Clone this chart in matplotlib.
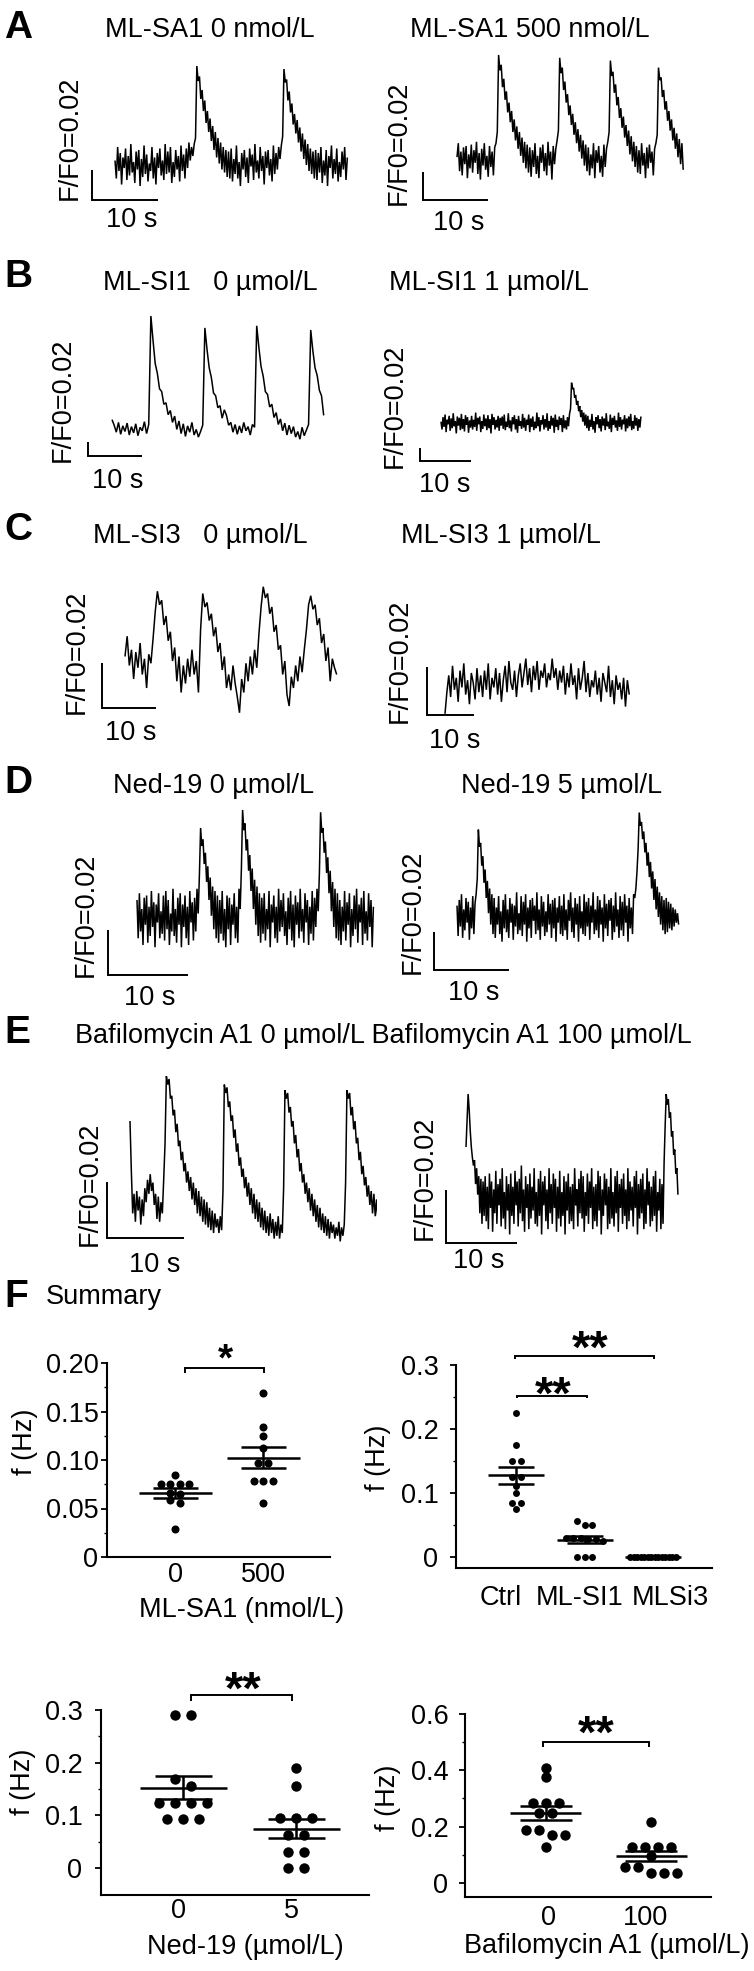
import numpy as np
import matplotlib
matplotlib.use('Agg')
import matplotlib.pyplot as plt

W, H = 754, 1971
FONT_SIZE = 19.5
LETTER_SIZE = 28

# calcium traces, dF/F0 in percent (the scale bar is 2 % = 0.02)
TRACE_SA1_0 = [  # every 0.2 s
    0.3, -0.9, 1.2, -0.4, 0.8, -1.3, 0.5, -0.2, 1.1, -1.0,
    0.6, -0.7, 1.4, -0.5, 0.2, -1.2, 0.9, -0.3, 1.0, -1.4,
    0.4, -0.8, 1.3, -0.6, 0.7, -1.1, 0.1, -0.4, 1.2, -0.9,
    0.5, -1.3, 0.8, -0.2, 1.1, -0.7, 0.3, -1.0, 1.4, -0.6,
    0.9, -0.5, 1.2, -1.2, 0.2, -0.8, 1.0, -0.3, 0.6, -1.1,
    1.3, -0.4, 0.7, -0.9, 1.1, -0.2, 1.5, 0.3, 1.2, 0.6, 1.4,
    1.8, 6.6, 5.6, 5.9, 4.4, 5.0, 3.6, 4.3, 2.8, 3.6, 2.2, 3.1, 1.6, 2.6,
    1.0, 2.2, 0.5, 1.8, 0.1, 1.5, -0.3, 1.2, -0.5, 1.0, -0.8, 0.9, -0.9, 1.1,
    -1.1, 0.4, -0.6, 1.3, -0.9, 0.2, -1.4, 0.8, -0.3, 1.0,
    -0.8, 0.5, -1.2, 1.1, -0.1, 0.7, -1.0, 1.4, -0.5, 0.3,
    -0.9, 1.2, -0.4, 0.6, -1.3, 0.9, -0.2, 1.0, -0.7, 0.4,
    -1.1, 1.3, -0.6, 0.8, -0.3, 1.2, 0.4, 1.3,
    1.9, 6.4, 5.5, 5.7, 4.3, 4.9, 3.5, 4.1, 2.7, 3.4, 2.1, 3.0, 1.5, 2.5,
    0.9, 2.1, 0.4, 1.7, 0.0, 1.4, -0.4, 1.1, -0.6, 0.9, -0.9, 1.0, -1.0,
    0.8, -0.5, 1.2, -1.2, 0.3, -0.7, 1.0, -1.4, 0.6, -0.2,
    1.3, -0.9, 0.4, -0.6, 1.1, -1.1, 0.2, -0.8, 0.9, -0.3, 1.2, -1.0, 0.5]
TRACE_SA1_500 = [  # every 0.2 s
    0.2, 1.2, -0.8, 0.6, -1.1, 0.9, -0.3, 1.0, -1.3, 0.4,
    -0.6, 1.1, -0.9, 0.7, -0.2, 1.3, -1.0, 0.5, -1.4, 0.8,
    -0.4, 1.2, -0.7, 0.3, -1.2, 1.0, -0.5, 0.6, -1.1, 0.9, 1.2,
    2.0, 7.5, 6.4, 6.8, 5.2, 5.8, 4.3, 4.9, 3.4, 4.1, 2.7, 3.5, 2.0, 2.9,
    1.4, 2.4, 0.8, 2.0, 0.3, 1.6, -0.2, 1.3, -0.6, 1.1, -0.9, 0.9, -1.2,
    0.7, -0.5, 1.2, -1.0, 0.3, -1.3, 0.9, -0.2, 1.1, -0.8,
    0.5, -1.1, 1.3, -0.4, 0.6, -1.4, 1.0, -0.3, 0.8, 1.4,
    2.1, 7.3, 6.2, 6.6, 5.0, 5.6, 4.1, 4.7, 3.2, 3.9, 2.5, 3.3,
    1.8, 2.7, 1.2, 2.2, 0.6, 1.8, 0.1, 1.4, -0.4, 1.1, -0.8,
    0.9, -1.1, 0.4, -0.6, 1.2, -1.3, 0.7, -0.2, 1.0, -0.9, 0.3, -1.2, 1.1, -0.5, 0.8, 1.3,
    2.0, 7.1, 6.0, 6.3, 4.8, 5.4, 3.9, 4.5, 3.0, 3.7, 2.3, 3.1,
    1.6, 2.5, 1.0, 2.1, 0.4, 1.7, -0.1, 1.3, -0.5, 1.0, -0.9,
    0.7, -1.0, 1.2, -0.4, 0.5, -1.3, 0.9, -0.6, 1.1, -0.2, 0.6, -1.1, 0.8, 1.2,
    1.8, 6.6, 5.7, 5.9, 4.5, 5.0, 3.6, 4.2, 2.8, 3.5, 2.1,
    2.9, 1.4, 2.3, 0.8, 1.9, 0.2, 1.5, -0.3, 1.2, -0.7]
TRACE_SI1_0 = [  # every 0.4 s
    1.2, 0.4, -0.6, 0.8, -0.9, 0.3, -0.5, 0.7, -1.0, 0.2, -0.7, 0.6, -1.1, 0.1, -0.4, 0.9, -0.8, 0.5,
    16.0, 12.5, 9.2, 7.8, 5.6, 5.2, 3.4, 3.6, 1.9, 2.5, 0.8, 1.7, -0.2, 1.0, -0.8,
    0.6, -1.2, 0.3, -0.6, 0.8, -1.0, -0.2, -1.3, -0.5, 0.4,
    14.3, 11.2, 8.6, 7.2, 5.0, 4.6, 2.9, 3.2, 1.4, 2.6, 1.8, 0.4, 0.8, -0.6, 0.5,
    -0.9, 0.3, -0.7, 0.8, -0.4, 0.2, -1.0, 0.5, 0.1,
    14.6, 11.5, 8.8, 7.4, 5.2, 4.8, 3.0, 3.4, 1.5, 2.2, 0.5, 1.3, -0.4, 0.7, -1.0,
    0.4, -0.8, 0.2, -1.3, -0.5, -1.6, 0.1, -1.1, -0.3, 0.5,
    14.0, 11.0, 8.6, 7.5, 5.4, 4.6, 1.8]
TRACE_SI1_1 = [  # every 0.2 s
    0.2, -1.0, 0.9, -0.6, 1.3, -1.4, 0.5, -0.2, 1.1, -1.2,
    0.7, -0.8, 1.5, -0.5, 0.3, -1.6, 1.0, -0.4, 0.8, -1.1,
    1.4, -0.9, 0.6, -1.3, 1.2, -0.3, 0.9, -1.5, 0.4, -0.7,
    1.1, -1.0, 0.5, -0.6, 1.6, -1.2, 0.8, -0.2, 1.0, -1.4,
    0.3, -0.9, 1.3, -0.5, 0.7, -1.1, 1.2, -0.8, 0.6, -1.6,
    1.4, -0.3, 0.9, -1.0, 0.5, -0.7, 1.1, -1.2, 0.8, -0.4,
    1.0, -0.9, 1.3, -1.1, 0.2, -0.6, 1.5, -0.8, 0.4, -1.3,
    0.9, -0.2, 1.2, -1.0, 0.6, -1.5, 1.1, -0.4, 0.3, -0.9,
    1.4, -0.7, 0.8, -1.2, 0.5, -0.3, 1.3, -1.4, 0.7, -0.6,
    1.0, -1.1, 0.2, -0.8, 1.6, -0.5, 0.9, -1.3, 0.4, -0.2,
    1.2, -1.0, 0.6, -0.7, 1.5, -1.2, 0.3, -0.9, 1.1, -0.4,
    0.8, -1.5, 1.3, -0.6, 0.5, -1.1, 1.0, -0.3, 0.7, -1.4,
    1.2, -0.8, 0.4, -1.0, 0.9, -0.5, 1.4,
    2.2, 6.2, 5.2, 5.4, 3.9, 4.3, 2.8, 3.4, 1.8, 2.6, 0.9, 2.0, 0.2, 1.6, -0.4, 1.3, -0.8,
    1.1, -1.2, 0.5, -0.6, 1.4, -1.0, 0.3, -1.5, 0.9, -0.2,
    1.2, -0.8, 0.6, -1.3, 1.0, -0.4, 0.7, -1.1, 1.5, -0.5,
    0.2, -0.9, 1.3, -1.4, 0.8, -0.3, 1.1, -0.7, 0.4, -1.2,
    1.6, -0.6, 0.9, -1.0, 0.5, -0.2, 1.2, -1.3, 0.7, -0.8,
    1.0, -0.5, 1.4, -1.1, 0.3, -0.9, 1.2, -0.4, 0.8, -1.2, 0.6, -0.7, 1.0]
TRACE_SI3_0 = [  # every 0.4 s
    0.6, 1.5, 0.2, 0.9, -0.4, 0.8, 0.1, 1.2, -0.2, 0.5, -0.8, 0.7, 0.3,
    1.4, 2.6, 3.5, 2.9, 3.1, 2.0, 2.4, 1.3, 1.7, 0.4, 1.0, -0.5, 0.6, -1.0, 0.2, -0.6,
    0.5, -0.3, 0.9, -0.2, 0.4, -1.0, 1.8,
    3.4, 2.8, 3.0, 2.2, 2.5, 1.5, 1.9, 0.8, 1.2, 0.0, 0.6, -0.8, -0.2, -0.9, 0.2,
    -0.6, -1.2, -1.9, -0.4, -1.0, 0.3, -0.5, 0.6, -0.2, 0.9, 0.1, 1.6,
    2.8, 3.7, 3.2, 3.4, 2.5, 2.8, 1.7, 2.0, 0.9, 1.1, -0.2, 0.4, -1.1, -1.6, -0.3,
    -0.8, 0.2, -0.5, 0.6, -0.1, 0.9, 1.8,
    2.9, 3.3, 2.7, 2.9, 2.0, 2.3, 1.2, 1.6, 0.4, 1.0, -0.5, 0.5, 0.1, -0.2]
TRACE_SI3_1 = [  # every 0.4 s
    -1.2, -0.3, 0.4, -0.5, 0.8, -0.2, 0.3, -0.7, 0.6, -0.1, 0.9, -0.4, 0.2, -0.8, 0.5, 0.1, -0.6, 0.7, -0.3, 0.4,
    -0.5, 0.6, -0.2, 0.9, -0.6, 0.3, -0.1, 0.7, -0.4, 0.5, -0.7, 0.2, 0.8, -0.3, 1.0, 0.1, -0.2, 0.6, -0.5, 0.4,
    0.9, -0.1, 0.5, 1.1, 0.0, 0.7, -0.3, 0.8, 0.2, 1.0, -0.2, 0.6, 0.3, 0.9, -0.1, 0.5, 0.2, 1.1, 0.3, 0.7,
    -0.2, 0.6, 0.1, 0.8, -0.4, 0.5, -0.1, 0.9, 0.0, 0.4, -0.6, 0.7, -0.2, 0.3, 1.0, -0.3, 0.5, -0.5, 0.2, -0.1,
    0.6, -0.4, 0.3, -0.7, 0.5, 0.1, -0.3, 0.8, -0.5, 0.2, -0.8, 0.4, -0.2, 0.1, -0.6, 0.3, -0.9, 0.2, -0.4]
TRACE_NED_0 = [  # every 0.15 s
    0.8, -0.9, 1.1, -0.6, 0.4, -1.2, 0.9, -0.3, 1.0, -1.1,
    0.5, -0.8, 1.2, -0.4, 0.7, -1.3, 0.6, -0.2, 1.1, -0.9,
    0.3, -0.7, 1.0, -1.0, 1.2, -0.5, 0.8, -1.2, 0.2, -0.6,
    1.3, -0.8, 0.4, -1.1, 0.9, -0.3, 1.1, -1.3, 0.6, -0.4,
    1.0, -0.9, 0.5, -1.2, 1.2, -0.2, 0.7, -1.0, 0.9, -0.6, 1.3, 0.2,
    1.9, 4.0, 3.2, 3.5, 2.4, 2.9, 1.6, 2.3, 0.8, 1.8, 0.1, 1.4, -0.5, 1.2, -0.9, 1.0, -1.1,
    0.8, -0.7, 1.2, -1.0, 0.4, -1.3, 1.0, -0.5, 0.9, -1.2, 0.6, -0.3, 1.1, -0.9, 0.5, -1.1, 1.3, 0.4,
    2.2, 4.8, 3.9, 4.2, 3.0, 3.5, 2.1, 2.8, 1.2, 2.2, 0.4, 1.7, -0.3, 1.4, -0.8, 1.1, -1.1,
    0.9, -0.7, 1.1, -1.0, 0.4, -0.5, 1.2, -1.3, 0.6, -0.2,
    1.0, -0.9, 0.5, -1.1, 1.3, -0.6, 0.8, -0.4, 1.1, -0.8,
    0.3, -1.2, 0.9, -0.5, 1.2, -1.0, 0.6, -1.3, 1.0, -0.3,
    0.7, -0.9, 1.3, -0.6, 0.4, -1.1, 1.1, -0.2, 0.8, -1.2,
    0.5, -0.7, 1.2, -1.0, 0.9, -0.4, 1.3, 0.3,
    2.0, 4.7, 3.8, 4.0, 2.9, 3.4, 2.0, 2.7, 1.1, 2.1, 0.3, 1.6, -0.4, 1.3, -0.9, 1.1, -1.0,
    0.8, -1.2, 0.5, -0.6, 1.2, -1.0, 0.7, -0.3, 1.1, -1.3,
    0.4, -0.8, 1.0, -0.5, 1.3, -1.1, 0.6, -0.2, 0.9, -1.2,
    1.2, -0.7, 0.3, -1.0, 1.1, -0.4, 0.8, -1.3, 0.5]
TRACE_NED_5 = [  # every 0.15 s
    0.6, -1.0, 0.9, -0.5, 1.2, -1.1, 0.4, -0.7, 1.0, -0.3,
    0.8, -1.2, 0.5, -0.6, 1.1, -0.9, 0.7, 1.2,
    2.0, 4.6, 3.7, 3.9, 2.7, 3.2, 1.8, 2.5, 1.0, 1.9, 0.2, 1.5, -0.4, 1.2, -0.9, 1.0, -1.1,
    0.5, -0.4, 1.1, -0.9, 0.3, -1.3, 0.9, -0.6, 1.2, -0.8,
    0.4, -1.1, 1.0, -0.3, 0.7, -1.2, 0.6, -0.5, 1.3, -0.9,
    0.2, -0.7, 1.1, -1.0, 0.8, -0.4, 1.2, -1.3, 0.5, -0.6,
    0.9, -1.1, 1.0, -0.2, 0.6, -0.9, 1.3, -0.7, 0.4, -1.2,
    1.1, -0.5, 0.8, -1.0, 0.3, -0.8, 1.2, -0.4, 0.7, -1.1,
    0.9, -0.6, 1.0, -1.3, 0.5, -0.3, 1.1, -0.9, 0.6, -1.0,
    1.2, -0.7, 0.4, -1.2, 0.9, -0.2, 1.3, -0.8, 0.5, -1.1,
    1.0, -0.4, 0.7, -1.3, 1.1, -0.6, 0.3, -0.9, 1.2, -1.0,
    0.8, -0.5, 1.0, -1.2, 0.6, -0.3, 1.3, -0.9, 0.4, -0.7,
    1.1, -1.1, 0.9, -0.4, 0.5, -1.3, 1.2, -0.6, 0.7, -1.0,
    0.9, -0.2, 1.0, -1.2, 0.6, -0.8, 1.3, -0.5, 0.4, -1.1,
    1.1, -0.7, 0.8, -1.0, 1.2, -0.3, 0.6, -1.3, 1.0, -0.6,
    0.5, -0.9, 1.2, 1.0, 1.5,
    2.4, 3.6, 5.5, 4.8, 5.0, 4.1, 4.5, 3.4, 3.9, 2.7, 3.4, 2.1, 2.9, 1.5, 2.4, 0.9, 2.0, 0.4, 1.6,
    0.0, 1.3, -0.4, 1.1, -0.7, 0.9, -0.9, 1.0, -0.8, 0.8, -0.6, 0.7, -0.7, 0.5, -0.5, 0.4, -0.3, 0.2, -0.4]
TRACE_BAF_0 = [  # every 0.175 s
    3.0, 1.2, -0.3, 0.4, -0.6, 0.5, -0.2, 0.3, -0.7, 0.2, -0.4, 0.6, 0.1,
    0.9, 0.4, 1.1, 0.5, 0.8, 0.0, 0.4, -0.5, 0.3, -0.6, 0.1, -0.3, 0.9,
    2.2, 4.6, 4.3, 4.5, 3.8, 3.9, 3.2, 3.4, 2.6, 2.9, 2.1, 2.3, 1.6, 1.9, 1.2, 1.5, 0.8, 1.2, 0.5, 1.0,
    0.2, 0.8, 0.0, 0.6, -0.3, 0.5, -0.4, 0.3, -0.6, 0.2, -0.7, 0.1, -0.8, -0.1, -0.9, -0.2, -1.0, -0.3,
    -0.8, -0.5, -1.0, -0.4, -0.9, 0.5,
    4.3, 4.0, 4.2, 3.5, 3.7, 3.0, 3.2, 2.4, 2.7, 1.9, 2.2, 1.4, 1.7, 1.0, 1.3, 0.6, 1.0, 0.3, 0.8, 0.0,
    0.6, -0.3, 0.4, -0.5, 0.2, -0.6, 0.1, -0.8, -0.1, -0.9, -0.2, -1.0, -0.4, -1.1, -0.3, -1.0, -0.5,
    -1.2, -0.6, -1.1, -0.4, -1.2, -0.7, -1.0, 0.6,
    4.1, 3.8, 4.0, 3.3, 3.5, 2.8, 3.0, 2.2, 2.5, 1.7, 2.0, 1.2, 1.5, 0.8, 1.1, 0.4, 0.8, 0.1, 0.6, -0.2,
    0.4, -0.4, 0.2, -0.6, 0.0, -0.8, -0.1, -0.9, -0.3, -1.0, -0.4, -1.1, -0.5, -1.2, -0.6, -1.0, -0.7,
    -1.2, -0.8, -1.1, -0.6, -1.3, -0.8, -1.1, -0.7, 0.8,
    4.1, 3.8, 4.0, 3.2, 3.5, 2.7, 3.0, 2.2, 2.4, 1.6, 1.9, 1.1, 1.4, 0.7, 1.0, 0.3, 0.7, 0.0, 0.5,
    -0.3, 0.4, -0.4, 0.2, -0.5, 0.1, -0.4, 0.2, -0.3, -0.2]
TRACE_BAF_100 = [  # every 0.15 s
    2.0, 3.0, 4.0, 3.4, 2.6, 2.0, 1.6, 1.3, 1.5, 0.6, 1.2, 0.2, 0.9, -0.5, 0.8, -0.9,
    0.7, -0.6, 0.9, -0.8, 0.5, -1.1, 1.0, -0.3, 0.7, -1.2,
    0.4, -0.5, 1.1, -0.9, 0.6, -0.2, 0.8, -1.0, 1.2, -0.7,
    0.3, -1.1, 0.9, -0.4, 0.6, -1.3, 1.0, -0.6, 0.5, -0.9,
    1.1, -0.2, 0.7, -1.0, 0.8, -0.5, 1.3, -0.8, 0.4, -1.2,
    0.9, -0.3, 0.6, -1.1, 1.0, -0.7, 0.5, -0.4, 1.2, -0.9,
    0.3, -1.0, 0.8, -0.6, 1.1, -1.3, 0.7, -0.2, 0.9, -0.8,
    0.4, -1.1, 1.2, -0.5, 0.6, -0.9, 1.0, -0.3, 0.8, -1.2,
    0.5, -0.7, 1.1, -1.0, 0.3, -0.6, 0.9, -1.3, 0.7, -0.4,
    1.0, -0.9, 0.5, -0.8, 0.6, -1.1, 1.2, -0.2, 0.4, -1.0,
    0.8, -0.5, 1.1, -0.7, 0.9, -1.2, 0.3, -0.6, 1.0, -0.9,
    0.7, -0.3, 1.2, -1.1, 0.5, -0.8, 0.6, -1.0, 1.1, -0.4,
    0.9, -1.3, 0.4, -0.6, 1.0, -0.2, 0.8, -1.1, 0.5, -0.9,
    1.2, -0.7, 0.3, -1.0, 0.9, -0.5, 1.1, -1.2, 0.6, -0.3,
    0.8, -0.9, 1.0, -0.6, 0.4, -1.1, 1.2, -0.8, 0.7, -0.4,
    0.5, -1.0, 0.9, -0.3, 1.1, -1.3, 0.6, -0.7, 0.8, -0.5,
    1.0, -1.1, 0.4, -0.9, 1.2, -0.2, 0.7, -1.0, 0.5, -0.8,
    0.9, -0.6, 1.1, -1.2, 0.3, -0.4, 0.8, -1.1, 0.6, -0.9,
    1.4, 2.8, 4.0, 3.6, 3.8, 3.1, 3.3, 2.4, 2.6, 1.7, 1.9, 1.0, 1.2, 0.2]

# summary, event frequency f (Hz) per cell
F_SA1_0 = [0.085, 0.075, 0.075, 0.075, 0.075, 0.066, 0.065, 0.059, 0.056, 0.029]
F_SA1_500 = [0.169, 0.134, 0.125, 0.112, 0.097, 0.097, 0.078, 0.078, 0.078, 0.056]
F_CTRL = [0.225, 0.175, 0.150, 0.150, 0.125, 0.125, 0.111, 0.100, 0.084, 0.084, 0.075]
F_SI1 = [0.056, 0.050, 0.050, 0.030, 0.030, 0.030, 0.028, 0.028, 0.025, 0.0, 0.0, 0.0]
F_SI3 = [0.0, 0.0, 0.0, 0.0, 0.0, 0.0, 0.0, 0.0, 0.0, 0.0, 0.0, 0.0, 0.0, 0.0]
F_NED_0 = [0.29, 0.29, 0.168, 0.156, 0.124, 0.124, 0.124, 0.124, 0.093, 0.093, 0.093]
F_NED_5 = [0.189, 0.156, 0.095, 0.095, 0.095, 0.063, 0.063, 0.031, 0.031, 0.0, 0.0]
F_BAF_0 = [0.407, 0.375, 0.283, 0.283, 0.283, 0.247, 0.247, 0.188, 0.188, 0.170, 0.170, 0.127]
F_BAF_100 = [0.217, 0.128, 0.128, 0.128, 0.128, 0.096, 0.057, 0.057, 0.035, 0.035, 0.035]


def load_plot_defaults():
    plt.rcParams['font.family'] = ['Liberation Sans', 'DejaVu Sans']
    plt.rc('font', size=FONT_SIZE)
    plt.rc('lines', solid_capstyle='butt', solid_joinstyle='miter')


def px_rect(l, t, r, b):
    return [l / W, 1 - b / H, (r - l) / W, (b - t) / H]


def ptext(fig, x, y, s, **kw):
    fig.text(x / W, 1 - y / H, s, **kw)


def draw_trace(fig, values, dt, origin, pps, ppu, bar, box, ylab, xlab):
    # origin = pixel of t=0, dF/F0=0 ; pps px per s ; ppu px per %
    l, t, r, b = box
    ax = fig.add_axes(px_rect(l, t, r, b))
    x0, y0 = origin
    ax.set_xlim((l - x0) / pps, (r - x0) / pps)
    ax.set_ylim((y0 - b) / ppu, (y0 - t) / ppu)
    ax.axis('off')
    time = np.arange(len(values)) * dt
    ax.plot(time, values, color='k', lw=1.1)
    tb = (bar[0] - x0) / pps
    vb = (y0 - bar[1]) / ppu
    ax.plot([tb, tb, tb + 10], [vb + 2, vb, vb], color='k', lw=1.4)
    ptext(fig, ylab[0], ylab[1], 'F/F0=0.02', rotation=90, ha='center', va='center')
    ptext(fig, xlab[0], xlab[1], '10 s', ha='center', va='baseline')


def row_offsets(values, ppu, dot):
    # spread cells with (nearly) the same value side by side
    order = np.argsort(-values, kind='stable')
    rows = []
    for i in order:
        if rows and (values[rows[-1][0]] - values[i]) * ppu < 0.6 * dot:
            rows[-1].append(i)
        else:
            rows.append([i])
    offs = np.zeros(len(values))
    for row in rows:
        for k, i in enumerate(row):
            offs[i] = (k - (len(row) - 1) / 2) * dot
    return offs


def draw_summary(fig, cfg):
    l, t, r, b = cfg['box']
    ax = fig.add_axes(px_rect(l, t, r, b))
    xlim, ylim = cfg['xlim'], cfg['ylim']
    ax.set_xlim(xlim)
    ax.set_ylim(ylim)
    sx = (r - l) / (xlim[1] - xlim[0])
    sy = (b - t) / (ylim[1] - ylim[0])
    for pos, vals, dot in zip(range(len(cfg['groups'])), cfg['groups'], cfg['dots']):
        vals = np.asarray(vals, dtype=float)
        offs = row_offsets(vals, sy, dot)
        ax.plot(pos + offs / sx, vals, 'o', color='k', ms=cfg['ms'], mew=0, zorder=2, clip_on=False)
        m = vals.mean()
        s = vals.std(ddof=1) / np.sqrt(len(vals))
        hw, sw = cfg['mean_hw'] / sx, cfg['sem_hw'] / sx
        kw = dict(color='k', lw=1.8, zorder=3)
        ax.plot([pos - hw, pos + hw], [m, m], **kw)
        ax.plot([pos - sw, pos + sw], [m + s, m + s], **kw)
        ax.plot([pos - sw, pos + sw], [m - s, m - s], **kw)
        ax.plot([pos, pos], [m - s, m + s], **kw)

    for x1, x2, yb, drop, star, xs, ys, size in cfg['brackets']:
        ax.plot([x1, x1, x2, x2], [yb - drop, yb, yb, yb - drop], color='k', lw=1.4, clip_on=False)
        ax.text(xs, ys, star, ha='center', va='baseline', fontsize=size, fontweight='bold')

    for side in ['top', 'right']:
        ax.spines[side].set_visible(False)
    for side in ['left', 'bottom']:
        ax.spines[side].set_linewidth(1.5)
    ax.set_yticks(cfg['yticks'], cfg['yticklabels'])
    ax.set_yticks(cfg['yminor'], minor=True)
    ax.set_xticks(cfg['xticks'], cfg['xticklabels'])
    ax.tick_params(axis='y', which='major', length=4, width=1.3, pad=cfg['ypad'])
    ax.tick_params(axis='y', which='minor', length=2.5, width=1.0)
    ax.tick_params(axis='x', length=0, pad=cfg['xpad'])
    ax.patch.set_alpha(0)

    ptext(fig, cfg['ylabel'][0], cfg['ylabel'][1], 'f (Hz)', rotation=90, ha='center', va='center')
    if cfg['xlabel']:
        ptext(fig, cfg['xlabel'][0], cfg['xlabel'][1], cfg['xlabel'][2], ha='center', va='center')


if __name__ == '__main__':
    load_plot_defaults()
    fig = plt.figure(figsize=(W / 100, H / 100), dpi=100)

    # panel letters and titles
    for x, y, s in [(4, 38, 'A'), (4, 287, 'B'), (4, 540, 'C'), (4, 793, 'D'), (4, 1043, 'E'), (4, 1307, 'F')]:
        ptext(fig, x, y, s, fontsize=LETTER_SIZE, fontweight='bold', va='baseline')
    titles = [(210, 37, 'ML-SA1 0 nmol/L'), (530, 37, 'ML-SA1 500 nmol/L'),
              (210, 290, 'ML-SI1   0 µmol/L'), (489, 290, 'ML-SI1 1 µmol/L'),
              (200, 543, 'ML-SI3   0 µmol/L'), (501, 543, 'ML-SI3 1 µmol/L'),
              (214, 793, 'Ned-19 0 µmol/L'), (562, 793, 'Ned-19 5 µmol/L'),
              (383, 1043, 'Bafilomycin A1 0 µmol/L Bafilomycin A1 100 µmol/L')]
    for x, y, s in titles:
        ptext(fig, x, y, s, ha='center', va='baseline')
    ptext(fig, 46, 1304, 'Summary', va='baseline')

    traces = [
        # values, dt, origin px, px/s, px/%, bar corner px, axes box px, F/F0 label, 10 s label
        (TRACE_SA1_0, 0.2, (115, 165), 6.6, 15.0, (92, 200), (30, 45, 377, 210), (70, 138), (132, 227)),
        (TRACE_SA1_500, 0.2, (457, 160), 6.5, 14.0, (423, 200), (377, 45, 754, 210), (399, 143), (459, 230)),
        (TRACE_SI1_0, 0.4, (112, 428), 5.4, 7.0, (88, 456), (30, 300, 377, 470), (63, 400), (118, 488)),
        (TRACE_SI1_1, 0.2, (441, 423), 5.1, 6.5, (420, 461), (377, 300, 754, 470), (395, 406), (445, 492)),
        (TRACE_SI3_0, 0.4, (125, 670), 5.4, 22.5, (102, 708), (30, 555, 377, 725), (77, 652), (131, 740)),
        (TRACE_SI3_1, 0.4, (445, 685), 4.7, 24.0, (427, 715), (377, 555, 754, 725), (400, 661), (455, 748)),
        (TRACE_NED_0, 0.15, (137, 918), 8.0, 22.5, (108, 975), (30, 800, 377, 985), (86, 915), (150, 1005)),
        (TRACE_NED_5, 0.15, (457, 917), 7.5, 19.0, (434, 970), (377, 800, 754, 985), (413, 912), (474, 1000)),
        (TRACE_BAF_0, 0.175, (130, 1205), 7.7, 28.0, (107, 1238), (30, 1055, 377, 1250), (90, 1184), (155, 1272)),
        (TRACE_BAF_100, 0.15, (466, 1200), 7.1, 26.5, (446, 1243), (377, 1055, 754, 1250), (425, 1178), (479, 1268)),
    ]
    for tr in traces:
        draw_trace(fig, *tr)

    summaries = [
        dict(groups=[F_SA1_0, F_SA1_500], box=(107, 1363, 330, 1557), xlim=(-0.773, 1.761), ylim=(0, 0.2),
             yticks=[0, 0.05, 0.1, 0.15, 0.2], yticklabels=['0', '0.05', '0.10', '0.15', '0.20'],
             yminor=[0.025, 0.075, 0.125, 0.175], xticks=[0, 1], xticklabels=['0', '500'],
             dots=[9.5, 9.5], ms=5.8, mean_hw=36.5, sem_hw=22.5, ypad=2.2, xpad=3.6,
             ylabel=(25, 1442), xlabel=(242, 1610, 'ML-SA1 (nmol/L)'),
             brackets=[(0.11, 1.01, 0.195, 0.005, '*', 0.57, 0.192, 28)]),
        dict(groups=[F_CTRL, F_SI1, F_SI3], box=(456, 1365, 712, 1568), xlim=(-0.876, 2.861), ylim=(-0.017, 0.3),
             yticks=[0, 0.1, 0.2, 0.3], yticklabels=['0', '0.1', '0.2', '0.3'],
             yminor=[0.05, 0.15, 0.25], xticks=[-0.23, 0.93, 2.26], xticklabels=['Ctrl', 'ML-SI1', 'MLSi3'],
             dots=[9, 7.5, 3.5], ms=5.0, mean_hw=28, sem_hw=18, ypad=8.6, xpad=12,
             ylabel=(378, 1458), xlabel=None,
             brackets=[(0.015, 1.04, 0.252, 0.004, '**', 0.54, 0.231, 34),
                       (-0.015, 2.01, 0.314, 0.005, '**', 1.08, 0.303, 34)]),
        dict(groups=[F_NED_0, F_NED_5], box=(101, 1710, 369, 1895), xlim=(-0.726, 1.646), ylim=(-0.0514, 0.3),
             yticks=[0, 0.1, 0.2, 0.3], yticklabels=['0', '0.1', '0.2', '0.3'],
             yminor=[0.05, 0.15, 0.25], xticks=[-0.04, 0.96], xticklabels=['0', '5'],
             dots=[16, 16], ms=7.5, mean_hw=43.5, sem_hw=28.5, ypad=9.4, xpad=2,
             ylabel=(23, 1782), xlabel=(245, 1947, 'Ned-19 (µmol/L)'),
             brackets=[(0.07, 0.965, 0.328, 0.011, '**', 0.53, 0.312, 34)]),
        dict(groups=[F_BAF_0, F_BAF_100], box=(465, 1714, 711, 1897), xlim=(-0.771, 1.571), ylim=(-0.05, 0.6),
             yticks=[0, 0.2, 0.4, 0.6], yticklabels=['0', '0.2', '0.4', '0.6'],
             yminor=[0.1, 0.3, 0.5], xticks=[0.02, 0.95], xticklabels=['0', '100'],
             dots=[13, 13], ms=7.5, mean_hw=35.5, sem_hw=26, ypad=8, xpad=6,
             ylabel=(388, 1798), xlabel=(607, 1946, 'Bafilomycin A1 (µmol/L)'),
             brackets=[(-0.03, 0.98, 0.50, 0.017, '**', 0.48, 0.479, 34)]),
    ]
    for cfg in summaries:
        draw_summary(fig, cfg)

    fig.savefig('out.png', dpi=100, facecolor='white')
    plt.close(fig)
